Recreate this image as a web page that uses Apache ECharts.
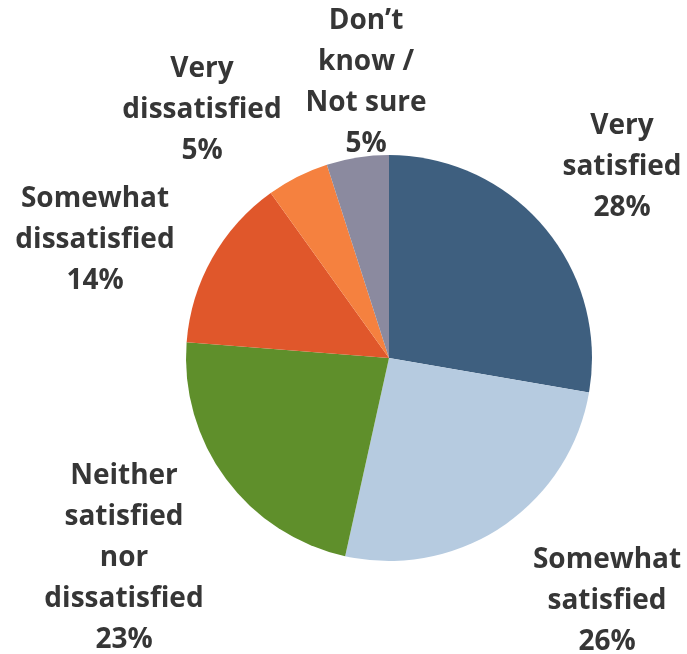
<!DOCTYPE html>
<html>
<head>
<meta charset="utf-8">
<script src="https://cdn.jsdelivr.net/npm/echarts@6/dist/echarts.min.js"></script>
<style>
  html, body { margin: 0; padding: 0; background: #ffffff; }
  #chart { width: 687px; height: 654px; }
</style>
</head>
<body>
<div id="chart"></div>
<script>
// Satisfaction survey responses, clockwise from 12 o'clock
const categories = [
  'Very\nsatisfied',
  'Somewhat\nsatisfied',
  'Neither\nsatisfied\nnor\ndissatisfied',
  'Somewhat\ndissatisfied',
  'Very\ndissatisfied',
  'Don\u2019t\nknow /\nNot sure'
];
const percentages = [28, 26, 23, 14, 5, 5];
const sliceColors = ['#3e5f7f', '#b6cbe0', '#5f8f2b', '#e0572b', '#f5813f', '#8b8a9f'];

// Where each label block is centred
const labelAnchors = [
  [622, 167],
  [607, 601],
  [124, 558],
  [95, 240],
  [202, 110],
  [366, 83]
];

const chart = echarts.init(document.getElementById('chart'), null, { renderer: 'canvas' });

chart.setOption({
  animation: false,
  backgroundColor: '#ffffff',
  series: [{
    type: 'pie',
    center: [389, 358],
    radius: 203,
    startAngle: 90,
    clockwise: true,
    avoidLabelOverlap: false,
    data: categories.map((name, i) => ({
      name: name,
      value: percentages[i],
      itemStyle: { color: sliceColors[i] }
    })),
    itemStyle: { borderWidth: 0 },
    label: {
      show: true,
      position: 'outside',
      formatter: p => p.name + '\n' + p.value + '%',
      fontFamily: 'Open Sans',
      fontWeight: 'bold',
      fontSize: 28,
      lineHeight: 41,
      color: '#363636',
      align: 'center'
    },
    labelLine: { show: false },
    labelLayout: params => ({
      x: labelAnchors[params.dataIndex][0],
      y: labelAnchors[params.dataIndex][1],
      align: 'center',
      verticalAlign: 'middle'
    })
  }]
});
</script>
</body>
</html>
